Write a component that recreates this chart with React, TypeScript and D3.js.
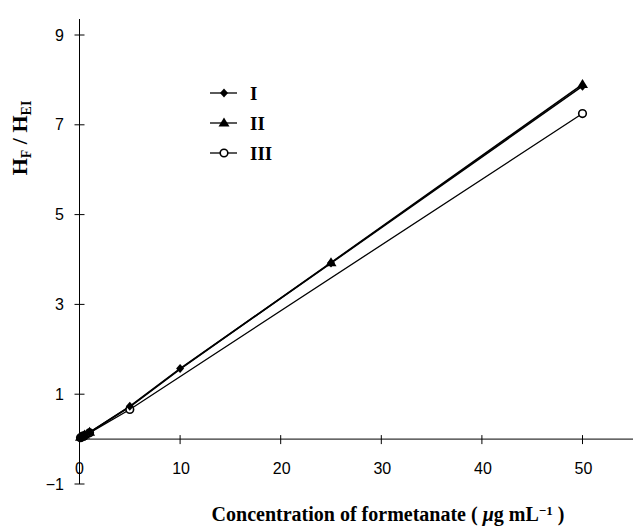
import React from "react";
import * as d3 from "d3";

const concI = [0.1, 0.25, 0.5, 1, 5, 10, 25, 50];
const valI = [0.04, 0.06, 0.09, 0.15, 0.73, 1.57, 3.92, 7.86];
const concII = [0.1, 0.25, 0.5, 1, 5, 10, 25, 50];
const valII = [0.04, 0.06, 0.09, 0.15, 0.72, 1.56, 3.93, 7.9];
const concIII = [0.1, 0.25, 0.5, 1, 5, 50];
const valIII = [0.03, 0.05, 0.08, 0.14, 0.66, 7.25];
const xTicks = [0, 10, 20, 30, 40, 50];
const yTicks = [-1, 1, 3, 5, 7, 9];
const seriesNames = ["I", "II", "III"];

const W = 633;
const H = 529;

export default function App() {
  const x = d3.scaleLinear().domain([0, 50]).range([79.5, 582.5]);
  const y = d3.scaleLinear().domain([-1, 9]).range([484, 35]);
  const line = d3
    .line<[number, number]>()
    .x((d) => x(d[0]))
    .y((d) => y(d[1]));
  const ptsI: [number, number][] = concI.map((c, i) => [c, valI[i]]);
  const ptsII: [number, number][] = concII.map((c, i) => [c, valII[i]]);
  const ptsIII: [number, number][] = concIII.map((c, i) => [c, valIII[i]]);

  const diamond = (cx: number, cy: number, k: number) => (
    <path
      key={k}
      d={`M${cx},${cy - 4.5}L${cx + 4},${cy}L${cx},${cy + 4.5}L${cx - 4},${cy}Z`}
      fill="#000"
    />
  );
  const triangle = (cx: number, cy: number, k: number) => (
    <path
      key={k}
      d={`M${cx},${cy - 5.5}L${cx + 5.5},${cy + 3.5}L${cx - 5.5},${cy + 3.5}Z`}
      fill="#000"
    />
  );
  const circle = (cx: number, cy: number, k: number) => (
    <circle key={k} cx={cx} cy={cy} r={3.8} fill="#fff" stroke="#000" strokeWidth={1.6} />
  );
  const markers = [diamond, triangle, circle];

  const x0 = x(0);
  const yAxis0 = y(0);
  const legendY = [93, 123, 153];

  return (
    <svg
      width={W}
      height={H}
      style={{ position: "absolute", left: 0, top: 0, background: "#fff" }}
    >
      <rect width={W} height={H} fill="#fff" />
      {/* axes */}
      <line x1={x0} x2={x0} y1={19} y2={484} stroke="#000" strokeWidth={1} />
      <line x1={x0} x2={W} y1={yAxis0} y2={yAxis0} stroke="#000" strokeWidth={1} />
      {yTicks.map((t) => (
        <g key={"y" + t}>
          <line x1={x0 - 5} x2={x0 + 5} y1={y(t)} y2={y(t)} stroke="#000" strokeWidth={1} />
          <text
            x={64}
            y={y(t)}
            dy="0.35em"
            textAnchor="end"
            fontFamily="Liberation Sans, Arial, sans-serif"
            fontSize={16}
          >
            {t < 0 ? "\u2212" + Math.abs(t) : t}
          </text>
        </g>
      ))}
      {xTicks.map((t) => (
        <g key={"x" + t}>
          {t !== 0 && (
            <line x1={x(t)} x2={x(t)} y1={yAxis0 - 4} y2={yAxis0 + 5} stroke="#000" strokeWidth={1} />
          )}
          <text
            x={t === 0 ? x(t) : x(t) + 1}
            y={474}
            textAnchor="middle"
            fontFamily="Liberation Sans, Arial, sans-serif"
            fontSize={16}
          >
            {t}
          </text>
        </g>
      ))}
      {/* series lines */}
      <path d={line(ptsIII) || ""} fill="none" stroke="#000" strokeWidth={1.3} />
      <path d={line(ptsII) || ""} fill="none" stroke="#000" strokeWidth={1.6} />
      <path d={line(ptsI) || ""} fill="none" stroke="#000" strokeWidth={1.6} />
      {ptsIII.map((p, i) => circle(x(p[0]), y(p[1]), i))}
      {ptsI.map((p, i) => diamond(x(p[0]), y(p[1]), i))}
      {ptsII
        .filter((p) => p[0] === 50 || p[0] === 25 || p[0] <= 1)
        .map((p, i) => triangle(x(p[0]), y(p[1]), i))}
      {/* legend */}
      {seriesNames.map((n, i) => (
        <g key={n}>
          <line x1={210} x2={237} y1={legendY[i]} y2={legendY[i]} stroke="#000" strokeWidth={1.3} />
          {markers[i](224, legendY[i], i)}
          <text
            x={250}
            y={legendY[i]}
            dy="0.35em"
            fontFamily="Liberation Serif, Times New Roman, serif"
            fontWeight="bold"
            fontSize={19}
          >
            {n}
          </text>
        </g>
      ))}
      {/* axis titles */}
      <text
        transform={`translate(27,138) rotate(-90)`}
        textAnchor="middle"
        fontFamily="Liberation Serif, Times New Roman, serif"
        fontWeight="bold"
        fontSize={22}
      >
        H
        <tspan fontSize={14} dy={4}>F</tspan>
        <tspan dy={-4}> / H</tspan>
        <tspan fontSize={14} dy={4}>EI</tspan>
      </text>
      <text
        x={388}
        y={521}
        textAnchor="middle"
        fontFamily="Liberation Serif, Times New Roman, serif"
        fontWeight="bold"
        fontSize={20}
      >
        Concentration of formetanate ( <tspan fontStyle="italic">μ</tspan>g mL
        <tspan fontSize={13} dy={-6}>−1</tspan>
        <tspan dy={6}> )</tspan>
      </text>
    </svg>
  );
}
